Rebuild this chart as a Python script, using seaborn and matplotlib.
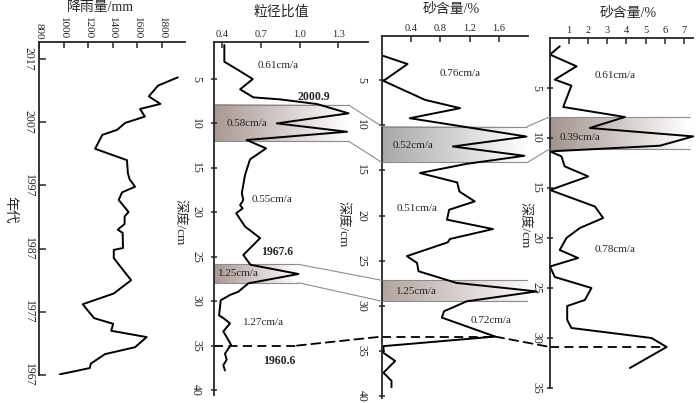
import numpy as np
import matplotlib
matplotlib.use("Agg")
import matplotlib.pyplot as plt
import seaborn as sns
from matplotlib.colors import LinearSegmentedColormap
from matplotlib.patches import ConnectionPatch

# set style of visualization
sns.set_style("ticks")
plt.rcParams['font.family'] = ['Liberation Serif', 'Noto Sans CJK SC']
plt.rcParams['axes.unicode_minus'] = False

# =============================================================================
# data
# =============================================================================

# panel 1: rainfall by year
rain = [1928, 1768, 1693, 1787, 1621, 1661, 1501, 1435, 1315, 1256, 1515, 1523,
        1536, 1581, 1475, 1448, 1528, 1496, 1496, 1440, 1480, 1483, 1408, 1408,
        1549, 1408, 1155, 1248, 1403, 1387, 1675, 1581, 1336, 1221, 1213, 968]
rain_year = [2014.1, 2012.8, 2011.1, 2009.9, 2009.1, 2007.9, 2006.9, 2005.8, 2005.0,
             2002.8, 2001.0, 1998.9, 1998.0, 1996.8, 1995.9, 1994.7, 1992.8, 1992.1,
             1990.9, 1990.0, 1989.5, 1987.1, 1986.8, 1985.5, 1982.0, 1979.9, 1978.2,
             1976.0, 1975.1, 1974.0, 1973.0, 1971.4, 1970.3, 1968.8, 1968.1, 1967.1]

# panel 2: grain size ratio by depth
grain = [0.418, 0.418, 0.526, 0.638, 0.54, 0.643, 0.85, 1.135, 1.38, 0.824, 1.367,
         0.59, 0.741, 0.617, 0.578, 0.553, 0.565, 0.54, 0.56, 0.51, 0.578, 0.695,
         0.565, 0.62, 0.992, 0.604, 0.526, 0.462, 0.39, 0.377, 0.41, 0.462, 0.41,
         0.47, 0.423, 0.436, 0.41, 0.423]
grain_depth = [1.17, 3.05, 3.99, 5.0, 6.16, 7.06, 7.29, 7.81, 8.86, 9.99, 10.93,
               11.86, 12.8, 14.04, 15.8, 17.86, 18.6, 19.2, 19.55, 20.1, 21.6, 22.9,
               24.8, 25.9, 26.94, 27.99, 28.94, 29.3, 29.9, 31.6, 31.9, 32.5, 33.4,
               34.9, 35.9, 36.6, 37.2, 37.8]

# panel 3: sand content (core 1)
sand1 = [0.02, 0.35, 0.02, 0.59, 1.07, 0.38, 1.98, 0.97, 1.95, 1.16, 0.52, 1.03,
         1.06, 1.27, 0.92, 0.89, 1.52, 0.93, 0.90, 0.34, 0.48, 0.50, 1.02, 2.12,
         1.16, 0.85, 0.82, 1.55, 0.02, 0.02, 0.18, 0.02, 0.13, 0.13]
sand1_depth = [2.34, 3.23, 5.1, 7.2, 8.12, 9.23, 11.26, 12.36, 13.39, 14.28, 15.3,
               16.34, 17.34, 18.44, 19.36, 20.46, 21.5, 22.6, 22.97, 24.5, 25.25,
               26.17, 27.46, 28.4, 29.5, 30.6, 31.3, 33.4, 34.46, 35.2, 36.1, 37.4,
               38.3, 39.0]

# panel 4: sand content (core 2)
sand2 = [0.51, 0, 1.39, 0.25, 1.12, 0.69, 3.92, 2.08, 7.49, 5.75, 0, 0.6, 0.77, 2.0,
         0, 2.35, 2.78, 1.56, 0.86, 0.51, 1.47, 0, 0.25, 2.17, 1.82, 0.9, 0.9, 1.12,
         5.31, 6.1, 4.18]
sand2_depth = [0.83, 1.66, 2.83, 4.16, 4.76, 6.9, 7.9, 9.0, 9.84, 10.77, 11.34,
               11.84, 12.84, 13.84, 15.2, 16.85, 18.0, 19.0, 20.0, 21.2, 22.0, 22.85,
               23.9, 25.0, 26.2, 26.8, 28.2, 29.0, 30.0, 30.9, 33.0]

# shaded layers (top depth, bottom depth, right end of shading)
bands2 = [(7.93, 12.0, 1.38), (25.85, 27.92, 0.99)]
bands3 = [(10.15, 14.13, 1.99), (27.17, 29.49, 2.16)]
bands4 = [(7.87, 11.07, 7.3)]

# dashed 1960.6 marker: depth in each panel and x where it ends
event2 = (35.0, 0.98)
event3 = (33.4, 1.55)
event4 = (30.9, 6.1)

# text labels: (x, depth, text, bold)
notes2 = [(0.834, 3.53, "0.61cm/a", False), (1.108, 7.06, "2000.9", True),
          (0.59, 9.98, "0.58cm/a", False), (0.786, 18.6, "0.55cm/a", False),
          (0.824, 24.5, "1967.6", True), (0.527, 26.94, "1.25cm/a", False),
          (0.72, 32.4, "1.27cm/a", False), (0.845, 36.7, "1960.6", True)]
notes3 = [(1.07, 4.26, "0.76cm/a", False), (0.43, 12.3, "0.52cm/a", False),
          (0.475, 19.25, "0.51cm/a", False), (0.475, 28.45, "1.25cm/a", False),
          (1.5, 31.6, "0.72cm/a", False)]
notes4 = [(3.39, 3.76, "0.61cm/a", False), (1.56, 10.0, "0.39cm/a", False),
          (3.39, 21.1, "0.78cm/a", False)]

# =============================================================================
# figure
# =============================================================================
W, H = 700, 403
fig = plt.figure(figsize=(7, 4.03), dpi=100)


def rect(l, t, r, b):
    return [l / W, 1 - b / H, (r - l) / W, (b - t) / H]


ax1 = fig.add_axes(rect(39, 42, 185, 375))
ax2 = fig.add_axes(rect(214, 42, 368, 395))
ax3 = fig.add_axes(rect(382, 36, 528, 398))
ax4 = fig.add_axes(rect(550, 38, 693, 388))


def style(ax, ydir="inout", ypad=6):
    sns.despine(ax=ax, top=False, right=True, bottom=True, left=False)
    ax.xaxis.tick_top()
    ax.tick_params(axis='x', direction='in', length=4, width=1.1, labelsize=7.5, pad=2)
    ax.tick_params(axis='y', direction=ydir, length=5, width=1.1, labelsize=8.5,
                   labelrotation=-90, pad=ypad)
    for s in ['top', 'left']:
        ax.spines[s].set_linewidth(1.3)
    for lab in ax.get_yticklabels():
        lab.set_va('center')


def band(ax, d0, d1, x0, x1, color):
    cmap = LinearSegmentedColormap.from_list('b', [color, '#ffffff'])
    ax.imshow(np.linspace(0, 1, 200)[None, :], extent=[x0, x1, d1, d0], aspect='auto',
              cmap=cmap, zorder=0.5, interpolation='bilinear')
    ax.hlines([d0, d1], x0, x1, color='#8c8c8c', lw=0.8, zorder=0.6)


def link(axA, xyA, axB, xyB, **kw):
    cp = ConnectionPatch(xyA=xyA, coordsA=axA.transData, xyB=xyB, coordsB=axB.transData, **kw)
    fig.add_artist(cp)


line_kw = dict(color='black', lw=1.4, sort=False, estimator=None)

# ---- panel 1: rainfall
sns.lineplot(x=rain, y=rain_year, ax=ax1, **line_kw)
ax1.set_xlim(800, 1987)
ax1.set_ylim(1967, 2019.7)
ax1.set_xticks([800, 1000, 1200, 1400, 1600, 1800])
ax1.set_yticks([1967, 1977, 1987, 1997, 2007, 2017])
style(ax1, ydir="in", ypad=3)
ax1.tick_params(axis='x', labelrotation=-90, labelsize=8)
ax1.set_ylabel("年代", rotation=-90, fontsize=10, va='center', ha='center')
ax1.yaxis.set_label_coords(-0.199, 0.495)

# ---- panel 2: grain size ratio
for d0, d1, x1 in bands2:
    band(ax2, d0, d1, 0.338, x1, '#a99893')
sns.lineplot(x=grain, y=grain_depth, ax=ax2, **line_kw)
ax2.set_xlim(0.338, 1.53)
ax2.set_ylim(40.56, 0.83)
ax2.set_xticks([0.4, 0.7, 1.0, 1.3])
ax2.set_yticks(range(5, 45, 5))
style(ax2)
ax2.set_ylabel("深度/cm", rotation=-90, fontsize=9.5, va='center', ha='center')
ax2.yaxis.set_label_coords(-0.22, 0.49)

# ---- panel 3: sand content
band(ax3, bands3[0][0], bands3[0][1], 0, bands3[0][2], '#a8a8a8')
band(ax3, bands3[1][0], bands3[1][1], 0, bands3[1][2], '#b3a59f')
sns.lineplot(x=sand1, y=sand1_depth, ax=ax3, **line_kw)
ax3.set_xlim(0, 2.0)
ax3.set_ylim(40.2, 0.13)
ax3.set_xticks([0.4, 0.8, 1.2, 1.6])
ax3.set_yticks(range(5, 45, 5))
style(ax3, ypad=8)
ax3.set_ylabel("深度/cm", rotation=-90, fontsize=9.5, va='center', ha='center')
ax3.yaxis.set_label_coords(-0.267, 0.48)
for ln in ax3.lines:
    ln.set_clip_on(False)

# ---- panel 4: sand content
for d0, d1, x1 in bands4:
    band(ax4, d0, d1, 0, x1, '#a3948e')
sns.lineplot(x=sand2, y=sand2_depth, ax=ax4, **line_kw)
ax4.set_xlim(0, 7.48)
ax4.set_ylim(35.0, 0)
ax4.set_xticks(range(1, 8))
ax4.set_yticks(range(5, 40, 5))
style(ax4, ypad=3)
ax4.set_ylabel("深度/cm", rotation=-90, fontsize=9.5, va='center', ha='center')
ax4.yaxis.set_label_coords(-0.175, 0.466)
for ln in ax4.lines:
    ln.set_clip_on(False)

# no x axis labels from seaborn
for ax in [ax1, ax2, ax3, ax4]:
    ax.set_xlabel("")

# ---- linking lines between shaded layers
gray = dict(color='#8c8c8c', lw=0.8)
for (a0, a1, ax_end), (b0, b1, _) in zip(bands2, bands3):
    link(ax2, (ax_end, a0), ax3, (0, b0), **gray)
    link(ax2, (ax_end, a1), ax3, (0, b1), **gray)
link(ax3, (bands3[0][2], bands3[0][0]), ax4, (0, bands4[0][0]), **gray)
link(ax3, (bands3[0][2], bands3[0][1]), ax4, (0, bands4[0][1]), **gray)

# ---- dashed 1960.6 line
dash = dict(color='black', lw=1.3, ls=(0, (5, 3)))
ax2.plot([0.338, event2[1]], [event2[0], event2[0]], clip_on=False, **dash)
ax3.plot([0, event3[1]], [event3[0], event3[0]], clip_on=False, **dash)
ax4.plot([0, event4[1]], [event4[0], event4[0]], clip_on=False, **dash)
link(ax2, (event2[1], event2[0]), ax3, (0, event3[0]), **dash)
link(ax3, (event3[1], event3[0]), ax4, (0, event4[0]), **dash)

# ---- text labels
for ax, notes in [(ax2, notes2), (ax3, notes3), (ax4, notes4)]:
    for x, d, t, b in notes:
        ax.text(x, d, t, ha='center', va='center', fontsize=8.5 if b else 8,
                fontweight='bold' if b else 'normal', zorder=5)

# ---- titles
for t, x, y in [("降雨量/mm", 100, 8), ("粒径比值", 281, 12), ("砂含量/%", 451, 9), ("砂含量/%", 628, 13)]:
    fig.text(x / W, 1 - y / H, t, ha='center', va='center', fontsize=10)

plt.savefig("out.png", dpi=100)
